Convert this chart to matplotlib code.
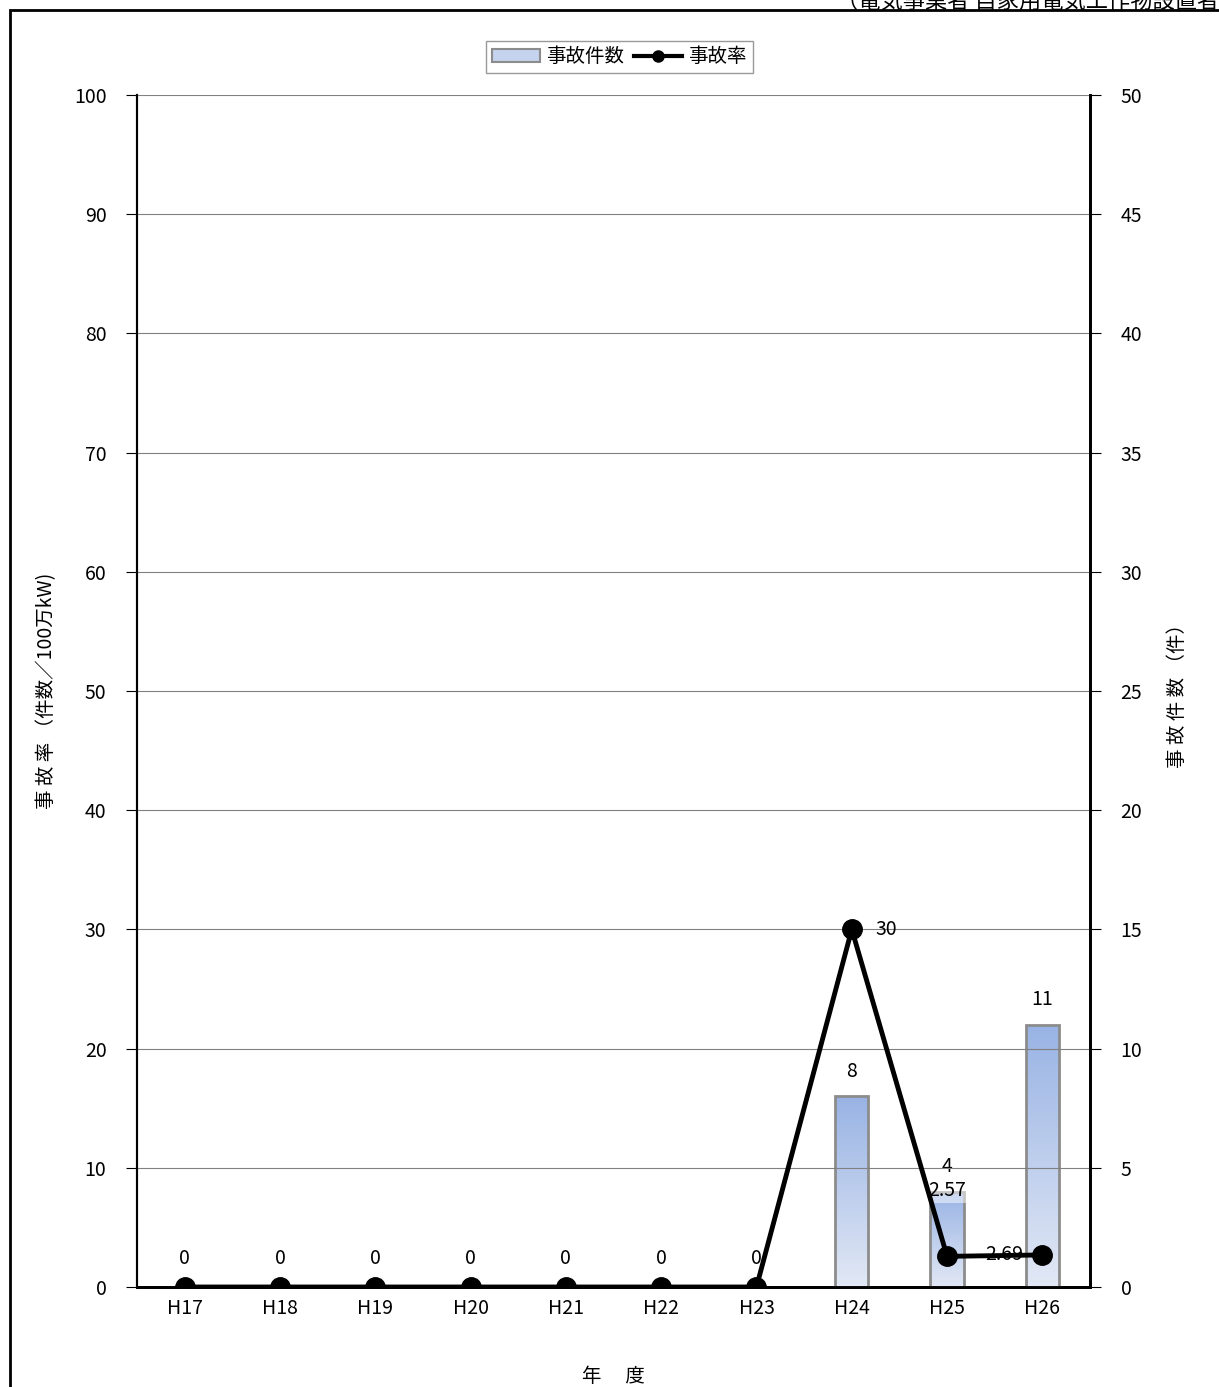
import matplotlib
matplotlib.use("Agg")
import matplotlib.pyplot as plt
import numpy as np
from matplotlib.patches import Rectangle
from matplotlib.lines import Line2D
from matplotlib.colors import LinearSegmentedColormap

plt.rcParams['font.family'] = ['Noto Sans CJK JP', 'DejaVu Sans']

years = ["H17", "H18", "H19", "H20", "H21", "H22", "H23", "H24", "H25", "H26"]
counts = [0, 0, 0, 0, 0, 0, 0, 8, 4, 11]
rates = [0, 0, 0, 0, 0, 0, 0, 30, 2.57, 2.69]
rate_labels = ["0", "0", "0", "0", "0", "0", "0", "30", "2.57", "2.69"]

fig = plt.figure(figsize=(12.19, 13.87), dpi=100)
ax = fig.add_axes([0.1124, 0.0721, 0.7818, 0.8594])
ax2 = ax.twinx()
x = np.arange(len(years))
FS = 14

ax2.set_ylim(0, 50)
grad = np.linspace(0, 1, 256).reshape(-1, 1)
cmap = LinearSegmentedColormap.from_list("g", ["#e2e8f5", "#98b3e4"])
w = 0.35
for xi, c in zip(x, counts):
    if c <= 0:
        continue
    r = Rectangle((xi - w/2, 0), w, c, facecolor="none", edgecolor="#8c8c8c", lw=2, zorder=3)
    ax2.add_patch(r)
    im = ax2.imshow(grad, extent=(xi - w/2, xi + w/2, 0, c), aspect="auto", cmap=cmap,
                    origin="lower", zorder=2)
    im.set_clip_path(r)
    ax2.text(xi, c + 0.6, str(c), ha="center", va="bottom", fontsize=FS)

ax.set_ylim(0, 100)
ax.set_yticks(range(0, 101, 10))
ax.grid(axis="y", color="#808080", lw=0.8)
ax.set_axisbelow(True)
ax2.set_yticks(range(0, 51, 5))
ax.set_xlim(-0.5, len(years) - 0.5)
ax2.set_xlim(-0.5, len(years) - 0.5)
ax.set_zorder(ax2.get_zorder() + 1)
ax.patch.set_visible(False)
ax.plot(x, rates, color="black", lw=3.5, marker="o", ms=14, zorder=5)
for xi, r, lab in zip(x, rates, rate_labels):
    if lab == "30":
        ax.text(xi + 0.25, r, lab, ha="left", va="center", fontsize=FS)
    elif lab == "2.57":
        ax.text(xi, r + 5.5, lab, ha="center", va="center", fontsize=FS,
                bbox=dict(facecolor="white", alpha=0.5, edgecolor="none", pad=1))
    elif lab == "2.69":
        ax.text(xi - 0.4, r, lab, ha="center", va="center", fontsize=FS,
                bbox=dict(facecolor="white", alpha=0.5, edgecolor="none", pad=1))
    else:
        ax.text(xi, r + 2.4, lab, ha="center", va="center", fontsize=FS)

ax.set_xticks(x)
ax.set_xticklabels(years, fontsize=FS)
ax.tick_params(axis="x", length=0, pad=8)
ax.tick_params(axis="y", labelsize=FS, direction="out", length=8, pad=14)
ax2.tick_params(axis="y", labelsize=FS, direction="out", length=8, pad=14)
for a in (ax, ax2):
    a.spines["top"].set_visible(False)
    a.spines["left"].set_linewidth(1.5)
    a.spines["right"].set_linewidth(2)
    a.spines["bottom"].set_linewidth(2)

ax.set_ylabel("事 故 率 （件数／100万kW)", fontsize=FS, labelpad=12)
ax2.set_ylabel("事 故 件 数 （件）", fontsize=FS, labelpad=18)
ax.set_xlabel("年　 度", fontsize=FS, labelpad=34)

handles = [Rectangle((0, 0), 1, 1, facecolor="#c5d3ee", edgecolor="#8c8c8c", lw=1.5),
           Line2D([], [], color="black", lw=3, marker="o", ms=8)]
leg = fig.legend(handles, ["事故件数", "事故率"], loc="center", bbox_to_anchor=(0.508, 0.959),
                 ncol=2, fontsize=FS, frameon=True, fancybox=False, edgecolor="#808080",
                 handlelength=2.5, columnspacing=0.5, handletextpad=0.3, borderpad=0.3)

fig.add_artist(Rectangle((10/1219, -0.05), 1.1, 1.05 - 10/1387, transform=fig.transFigure,
                         facecolor="none", edgecolor="black", lw=2, clip_on=False))
fig.text(1.0, 1 - 1/1387, "（電気事業者 自家用電気工作物設置者", ha="right", va="center", fontsize=16)

fig.savefig("out.png", dpi=100)
